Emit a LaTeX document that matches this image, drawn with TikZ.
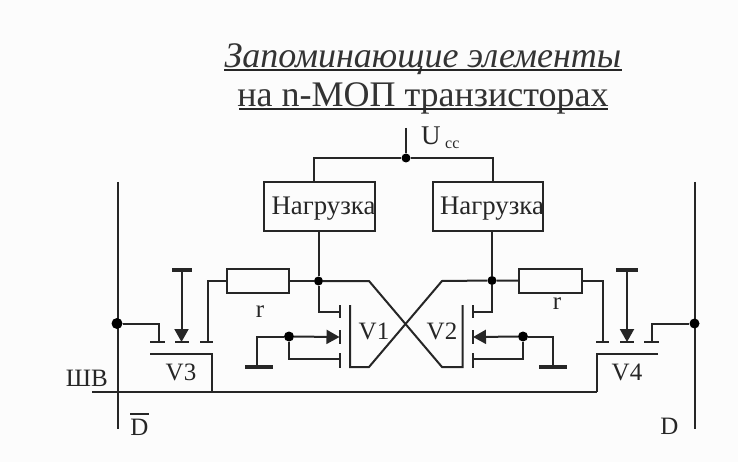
\documentclass[tikz,border=0pt]{standalone}
\usepackage{fontspec}
\setmainfont{Liberation Serif}
\usetikzlibrary{arrows.meta}
\tikzset{
  wire/.style={line width=2pt,draw=black!85},
  thin wire/.style={line width=1.6pt,draw=black!85},
  arrowed/.style={wire,-{Triangle[length=13pt,width=14pt]}},
  box/.style={wire,fill=none,inner sep=0pt},
  jdot/.style={circle,fill=black,inner sep=0pt,minimum size=10pt},
  ttl/.style={inner sep=0pt,font=\fontsize{36}{40}\selectfont,text=black!80},
  txt/.style={inner sep=0pt,font=\fontsize{25}{28}\selectfont,text=black!85},
  load/.style={inner sep=0pt,font=\fontsize{26.8}{30}\selectfont,text=black!85}
}
\begin{document}
\begin{tikzpicture}[x=1pt,y=-1pt]
\useasboundingbox (0,0) rectangle (738,462);
\fill[black!1] (0,0) rectangle (738,462);
% title
\node[ttl] (t1) at (423,59) {\itshape Запоминающие элементы};
\node[ttl] (t2) at (423,98) {на n-МОП транзисторах};
\draw[wire] (224,70) -- (622,70);
\draw[wire] (239,109) -- (608,109);
% supply
\node[jdot,minimum size=9pt] (vcc) at (406,158) {};
\coordinate (vcctop) at (406,128);
\node[txt,anchor=west] (ucc) at (421,138) {\fontsize{27}{30}\selectfont U\,{\fontsize{16}{18}\selectfont\raisebox{-4pt}{cc}}};
\draw[wire] (vcctop) -- (vcc);
% loads
\node[box,draw,minimum width=111pt,minimum height=49pt] (l1) at (319.5,206.5) {};
\node[box,draw,minimum width=110pt,minimum height=49pt] (l2) at (488,206.5) {};
\node[load] (l1t) at (323.5,209) {Нагрузка};
\node[load] (l2t) at (492,209) {Нагрузка};
\coordinate (l1a) at (314,182);
\coordinate (l2a) at (493,182);
\draw[wire] (l1a) |- (vcc) -| (l2a);
% drain nodes
\node[jdot,minimum size=9pt] (n1) at (318.5,281) {};
\node[jdot,minimum size=9pt] (n2) at (492,280.5) {};
\draw[wire] (l1.south -| n1) -- (n1);
\draw[wire] (l2.south -| n2) -- (n2);
% resistors
\node[box,draw,minimum width=62pt,minimum height=24pt] (r1) at (258,281) {};
\node[box,draw,minimum width=63pt,minimum height=24pt] (r2) at (550.5,281) {};
\node[txt] (r1t) at (260,312) {r};
\node[txt] (r2t) at (557,304) {r};
\draw[wire] (n1) -- (r1);
\draw[wire] (n2) -- (r2);
% cross coupling
\coordinate (g1t) at (350,305);
\coordinate (g1b) at (350,367);
\coordinate (g2t) at (462.5,305);
\coordinate (g2b) at (462.5,367);
\draw[wire] (n1) -- (369,281) -- (442,367) -- (g2b) -- (g2t);
\draw[wire] (n2) -- (442,281) -- (369,367) -- (g1b) -- (g1t);
% V1
\coordinate (v1d) at (339.5,311.5);
\coordinate (v1g) at (339.5,337);
\coordinate (v1s) at (339.5,359);
\draw[wire] (339.5,305) -- (339.5,318);
\draw[wire] (339.5,330) -- (339.5,344);
\draw[wire] (339.5,353) -- (339.5,368);
\draw[wire] (n1) |- (v1d);
\node[jdot] (m1) at (289,336.5) {};
\draw[arrowed] (m1) -- (v1g);
\draw[wire] (m1) |- (v1s);
\coordinate (gnd1) at (257,367);
\draw[wire] (m1) -| (gnd1);
\draw[wire,line width=3.5pt] (245,367) -- (273,367);
\node[txt] (v1t) at (374,331) {V1};
% V2
\coordinate (v2d) at (473,311.5);
\coordinate (v2g) at (473,337);
\coordinate (v2s) at (473,359);
\draw[wire] (473,305) -- (473,318);
\draw[wire] (473,330) -- (473,344);
\draw[wire] (473,353) -- (473,368);
\draw[wire] (n2) |- (v2d);
\node[jdot] (m2) at (523,336.5) {};
\draw[arrowed] (m2) -- (v2g);
\draw[wire] (m2) |- (v2s);
\coordinate (gnd2) at (552.5,367);
\draw[wire] (m2) -| (gnd2);
\draw[wire,line width=3.5pt] (539,367) -- (567,367);
\node[txt] (v2t) at (442,331) {V2};
% bit lines
\coordinate (dlt) at (118,182);
\coordinate (dlb) at (118,429);
\coordinate (drt) at (694.5,182);
\coordinate (drb) at (694.5,429);
\draw[wire] (dlt) -- (dlb);
\draw[wire] (drt) -- (drb);
\node[jdot,minimum size=11pt] (bl) at (117,323.5) {};
\node[jdot,minimum size=10pt] (br) at (694.5,323.5) {};
% word line
\coordinate (wl) at (92,392);
\coordinate (v3c) at (212,354);
\coordinate (v4c) at (597,354);
\draw[wire] (150,354) -- (v3c) -- (212,392);
\draw[wire] (658,354) -- (v4c) -- (597,392);
\draw[wire] (wl) -- (597,392);
% V3
\draw[thin wire] (150,342) -- (165,342);
\draw[thin wire] (175,342) -- (189,342);
\draw[thin wire] (200,342) -- (213,342);
\draw[wire] (bl) -| (159,342);
\draw[wire] (r1) -| (208,342);
\draw[arrowed] (181.5,270) -- (181.5,342);
\draw[wire,line width=3.5pt] (172,270) -- (192,270);
\node[txt] (v3t) at (181,372) {V3};
% V4
\draw[thin wire] (596,342) -- (609,342);
\draw[thin wire] (620,342) -- (634,342);
\draw[thin wire] (644,342) -- (659,342);
\draw[wire] (br) -| (652,342);
\draw[wire] (r2) -| (602.5,342);
\draw[arrowed] (627,270) -- (627,342);
\draw[wire,line width=3.5pt] (616,270) -- (638,270);
\node[txt] (v4t) at (627,372) {V4};
% labels
\node[txt,anchor=east] (wlt) at (108,378) {ШВ};
\node[txt] (d1) at (139.5,427) {D};
\draw[wire] (130,413.5) -- (149,413.5);
\node[txt] (d2) at (669.5,426) {D};
\end{tikzpicture}
\end{document}
